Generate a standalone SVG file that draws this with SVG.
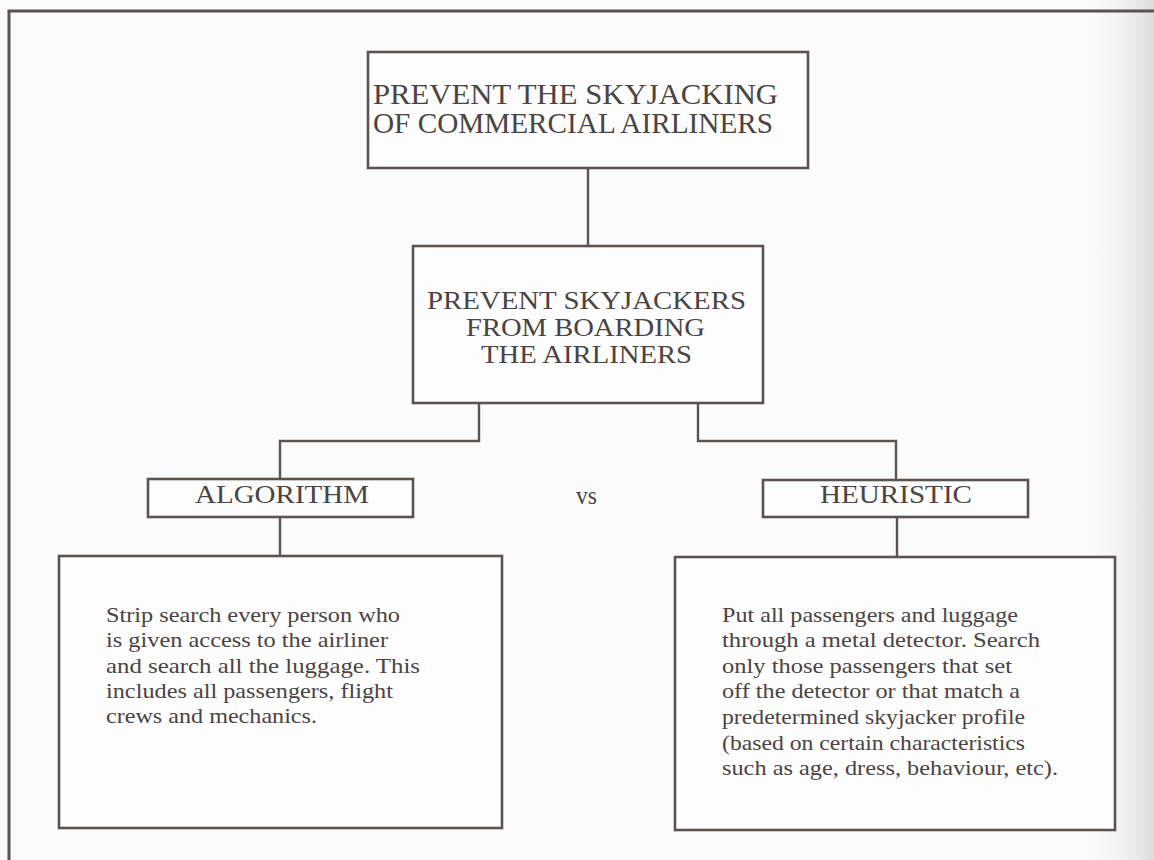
<svg xmlns="http://www.w3.org/2000/svg" width="1154" height="860" viewBox="0 0 1154 860">
  <defs>
    <linearGradient id="edgeShade" x1="0" y1="0" x2="1" y2="0">
      <stop offset="0" stop-color="#fbfbfb" stop-opacity="0"/>
      <stop offset="1" stop-color="#dcdcdc" stop-opacity="1"/>
    </linearGradient>
    <style>
      .frame { fill: none; stroke: #5b5350; stroke-width: 3; }
      .box { fill: #fdfdfd; stroke: #5b5350; stroke-width: 2.6; }
      .wire { fill: none; stroke: #5b5350; stroke-width: 2.4; }
      .t { font-family: "Liberation Serif", "Times New Roman", serif; fill: #4a4443; }
      .head { font-size: 29px; }
      .mid { font-size: 25px; }
      .tag { font-size: 26px; }
      .body { font-size: 22px; }
    </style>
  </defs>

  <!-- page -->
  <rect x="0" y="0" width="1154" height="860" fill="#fbfbfb"/>
  <rect x="1080" y="0" width="74" height="860" fill="url(#edgeShade)"/>

  <!-- outer frame: top rule and left rule -->
  <path class="frame" d="M9 860 V11 H1154"/>

  <!-- connectors -->
  <g id="connectors">
    <path class="wire" d="M588 168 V246"/>
    <path class="wire" d="M479 403 V441 H280 V479"/>
    <path class="wire" d="M698 403 V441 H896 V480"/>
    <path class="wire" d="M280 517 V556"/>
    <path class="wire" d="M897 517 V557"/>
  </g>

  <!-- goal -->
  <g id="goal">
    <rect class="box" x="368" y="52" width="440" height="116"/>
    <text class="t head">
      <tspan x="373" y="104" textLength="405" lengthAdjust="spacingAndGlyphs">PREVENT THE SKYJACKING</tspan>
      <tspan x="373" y="133" textLength="400" lengthAdjust="spacingAndGlyphs">OF COMMERCIAL AIRLINERS</tspan>
    </text>
  </g>

  <!-- sub-goal -->
  <g id="subgoal">
    <rect class="box" x="413" y="246" width="350" height="157"/>
    <text class="t mid">
      <tspan x="427" y="309" textLength="319" lengthAdjust="spacingAndGlyphs">PREVENT SKYJACKERS</tspan>
      <tspan x="466" y="336" textLength="239" lengthAdjust="spacingAndGlyphs">FROM BOARDING</tspan>
      <tspan x="481" y="363" textLength="211" lengthAdjust="spacingAndGlyphs">THE AIRLINERS</tspan>
    </text>
  </g>

  <!-- algorithm label -->
  <g id="algorithm">
    <rect class="box" x="148" y="479" width="265" height="38"/>
    <text class="t tag" x="195" y="503" textLength="174" lengthAdjust="spacingAndGlyphs">ALGORITHM</text>
  </g>

  <!-- versus -->
  <g id="versus">
    <text class="t tag" x="576" y="504" textLength="21" lengthAdjust="spacingAndGlyphs">vs</text>
  </g>

  <!-- heuristic label -->
  <g id="heuristic">
    <rect class="box" x="763" y="480" width="265" height="37"/>
    <text class="t tag" x="820" y="503" textLength="152" lengthAdjust="spacingAndGlyphs">HEURISTIC</text>
  </g>

  <!-- algorithm detail -->
  <g id="algorithm-detail">
    <rect class="box" x="59" y="556" width="443" height="272"/>
    <text class="t body">
      <tspan x="106" y="622" textLength="294" lengthAdjust="spacingAndGlyphs">Strip search every person who</tspan>
      <tspan x="106" y="647" textLength="282" lengthAdjust="spacingAndGlyphs">is given access to the airliner</tspan>
      <tspan x="106" y="673" textLength="314" lengthAdjust="spacingAndGlyphs">and search all the luggage.  This</tspan>
      <tspan x="106" y="698" textLength="287" lengthAdjust="spacingAndGlyphs">includes all passengers, flight</tspan>
      <tspan x="106" y="723" textLength="211" lengthAdjust="spacingAndGlyphs">crews and mechanics.</tspan>
    </text>
  </g>

  <!-- heuristic detail -->
  <g id="heuristic-detail">
    <rect class="box" x="675" y="557" width="440" height="273"/>
    <text class="t body">
      <tspan x="722" y="622" textLength="296" lengthAdjust="spacingAndGlyphs">Put all passengers and luggage</tspan>
      <tspan x="722" y="647" textLength="318" lengthAdjust="spacingAndGlyphs">through a metal detector.  Search</tspan>
      <tspan x="722" y="673" textLength="290" lengthAdjust="spacingAndGlyphs">only those passengers that set</tspan>
      <tspan x="722" y="698" textLength="298" lengthAdjust="spacingAndGlyphs">off the detector or that match a</tspan>
      <tspan x="722" y="724" textLength="303" lengthAdjust="spacingAndGlyphs">predetermined skyjacker profile</tspan>
      <tspan x="722" y="750" textLength="303" lengthAdjust="spacingAndGlyphs">(based on certain characteristics</tspan>
      <tspan x="722" y="775" textLength="336" lengthAdjust="spacingAndGlyphs">such as age, dress, behaviour, etc).</tspan>
    </text>
  </g>
</svg>
